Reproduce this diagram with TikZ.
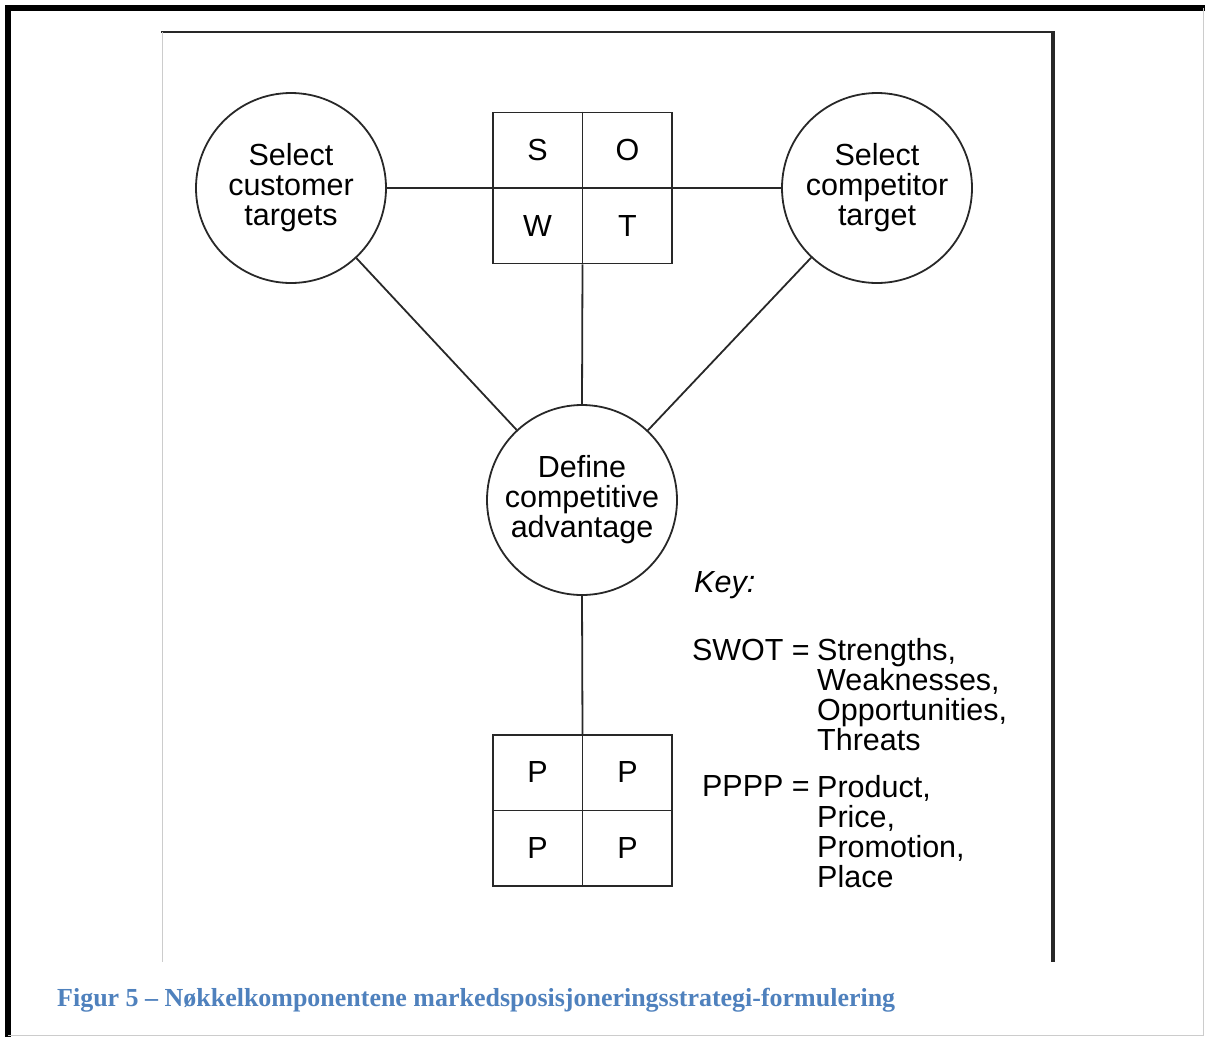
\documentclass[tikz,border=0pt]{standalone}
\usepackage{fontspec}
\setmainfont{Liberation Sans}
\newfontfamily\captionfont{Liberation Serif}
\usepackage{xcolor}
\usepackage{graphicx}
\definecolor{captionblue}{RGB}{79,129,189}
\definecolor{linegray}{RGB}{40,40,40}
\usetikzlibrary{positioning}

\begin{document}
\begin{tikzpicture}[x=1pt, y=-1pt,
      every node/.style={
        font=\fontsize{30.5}{30}\selectfont
      },
      target/.style={
        draw=linegray,
        line width=1.8pt,
        circle,
        minimum size=190pt,
        inner sep=0pt,
        align=center
      },
      grid/.style={
        draw=linegray,
        line width=1.8pt,
        rectangle,
        minimum width=179pt,
        minimum height=151pt,
        inner sep=0pt
      },
      link/.style={draw=linegray, line width=1.8pt},
      keytext/.style={anchor=base west, inner sep=0pt, align=left}
      ]
        \useasboundingbox (0,0) rectangle (1205,1037);

        % Rammer
        \draw[line width=6pt, black] (7.5,1037) -- (7.5,7.5) -- (1205,7.5);
        \draw[line width=1.5pt, gray!40] (1203.5,7.5) -- (1203.5,1035.5) -- (7.5,1035.5);
        \draw[line width=2pt, linegray] (161,32) -- (1055,32);
        \draw[line width=1.5pt, gray!40] (162.5,32) -- (162.5,962);
        \draw[line width=4pt, linegray] (1053,31) -- (1053,962);

        \node[target] (cust) at (291,188) {Select\\customer\\targets};
        \node[target] (comp) at (877,188) {Select\\competitor\\target};
        \node[target] (adv) at (582,500) {Define\\competitive\\advantage};

        \node[grid] (swot) at (582.5,188) {};
        \node[grid] (pppp) at (582.5,810.5) {};

        \draw[link] (cust) -- (comp);
        \draw[link] (swot.north) -- (swot.south);
        \draw[link] (swot.south) -- (adv.north);
        \draw[link] (cust) -- (adv);
        \draw[link] (comp) -- (adv);
        \draw[link] (adv.south) -- (pppp.north);
        \draw[link] (pppp.north) -- (pppp.south);
        \draw[link] (pppp.west) -- (pppp.east);

        \node (s) at (537.5,150) {S};
        \node (o) at (627.5,150) {O};
        \node (w) at (537.5,226) {W};
        \node (t) at (627.5,226) {T};

        \node (p1) at (537.5,772) {P};
        \node (p2) at (627.5,772) {P};
        \node (p3) at (537.5,848) {P};
        \node (p4) at (627.5,848) {P};

        % Key
        \node[anchor=base west, inner sep=0pt, font=\itshape\fontsize{30.5}{30}\selectfont] (key) at (694,592) {Key:};
        \node[anchor=base east, inner sep=0pt] (swotkey) at (810,660) {SWOT =};
        \node[keytext] (swotlist) at (817,750) {Strengths,\\Weaknesses,\\Opportunities,\\Threats};
        \node[anchor=base east, inner sep=0pt] (ppppkey) at (810,796) {PPPP =};
        \node[keytext] (pppplist) at (817,887) {Product,\\Price,\\Promotion,\\Place};

        \node[anchor=base west, inner sep=0pt, text=captionblue,
              font=\captionfont\bfseries\fontsize{26}{28}\selectfont] (caption) at (57,1006)
              {\resizebox{838pt}{\height}{Figur 5 – Nøkkelkomponentene markedsposisjoneringsstrategi-formulering}};
    \end{tikzpicture}
\end{document}
